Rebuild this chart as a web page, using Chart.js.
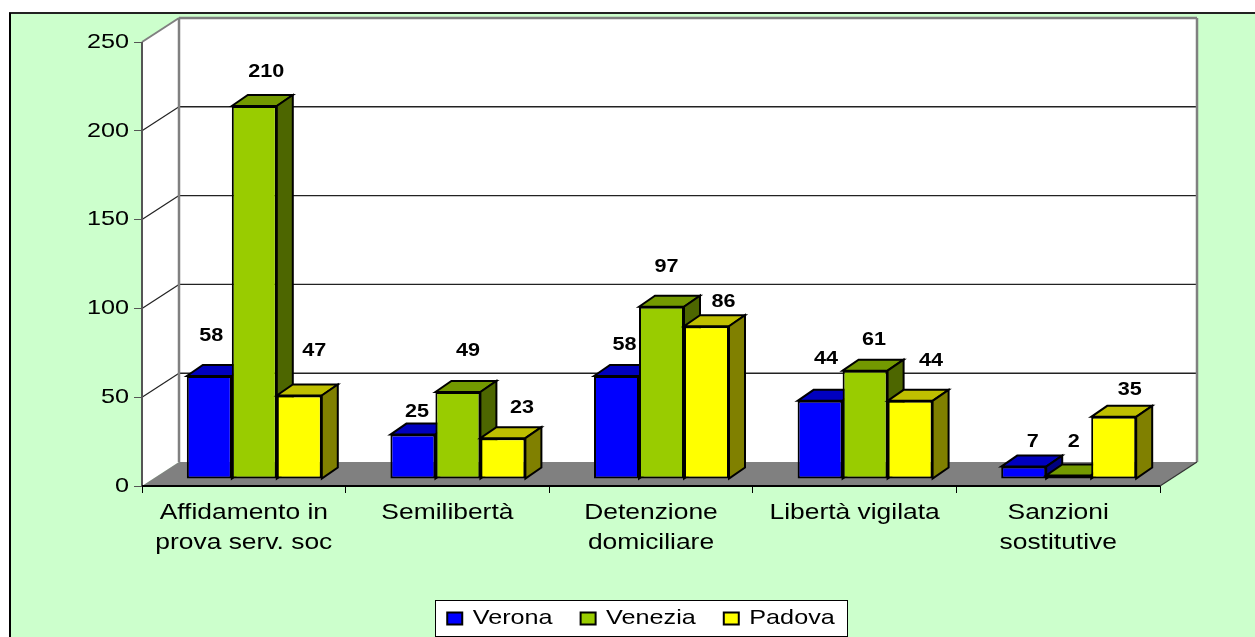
<!DOCTYPE html>
<html>
<head>
<meta charset="utf-8">
<style>
  html, body { margin: 0; padding: 0; background: #fff; }
  #wrap { width: 1255px; height: 637px; }
</style>
<script src="https://cdn.jsdelivr.net/npm/chart.js@4"></script>
</head>
<body>
<div id="wrap"><canvas id="misureChart" width="1255" height="637"></canvas></div>
<script>
var categories = [['Affidamento in', 'prova serv. soc'], 'Semilibertà', ['Detenzione', 'domiciliare'], 'Libertà vigilata', ['Sanzioni', 'sostitutive']];
var verona = [58, 25, 58, 44, 7];
var venezia = [210, 49, 97, 61, 2];
var padova = [47, 23, 86, 44, 35];
var yTicks = [0, 50, 100, 150, 200, 250];

// where each value label sits relative to the top of its bar, the original places them by hand
var veronaLabelNudge = [[2, -40], [4, -23], [8, -31], [6, -42], [9, -25]];
var veneziaLabelNudge = [[12, -34], [10, -41], [5, -40], [9, -31], [5, -33]];
var padovaLabelNudge = [[15, -44], [19, -30], [17, -24], [21, -40], [16, -27]];

var seriesStyles = [
  {front: '#0000FF', top: '#0000BF', side: '#000080', nudge: veronaLabelNudge},
  {front: '#99CC00', top: '#739900', side: '#4D6600', nudge: veneziaLabelNudge},
  {front: '#FFFF00', top: '#BFBF00', side: '#808000', nudge: padovaLabelNudge}
];

var FONT = '"Liberation Sans", Arial, sans-serif';
var TEXT_STRETCH = 1.2;   // the original bitmap is wider than tall, text comes out stretched
var WALL = {dx: 37, dy: -24};
var BAR_SHIFT = {dx: 10.5, dy: -7};
var BAR_DEPTH = {dx: 16, dy: -11};
var LEGEND_BOX = {left: 435, top: 600, right: 847, bottom: 636};

function stretchText(ctx) {
  var fillText = ctx.fillText.bind(ctx);
  var measureText = ctx.measureText.bind(ctx);
  ctx.textRendering = 'geometricPrecision';
  ctx.fillText = function(text, x, y) {
    ctx.save();
    ctx.translate(x, y);
    ctx.scale(TEXT_STRETCH, 1);
    fillText(text, 0, 0);
    ctx.restore();
  };
  ctx.measureText = function(text) {
    return {width: measureText(text).width * TEXT_STRETCH};
  };
}

function polygon(ctx, points, fill, stroke, lineWidth) {
  ctx.beginPath();
  ctx.moveTo(points[0][0], points[0][1]);
  for (var i = 1; i < points.length; i++) {
    ctx.lineTo(points[i][0], points[i][1]);
  }
  ctx.closePath();
  if (fill) {
    ctx.fillStyle = fill;
    ctx.fill();
  }
  if (stroke) {
    ctx.strokeStyle = stroke;
    ctx.lineWidth = lineWidth;
    ctx.stroke();
  }
}

function line(ctx, x1, y1, x2, y2, color, width) {
  ctx.beginPath();
  ctx.moveTo(x1, y1);
  ctx.lineTo(x2, y2);
  ctx.strokeStyle = color;
  ctx.lineWidth = width;
  ctx.stroke();
}

function drawWalls(chart) {
  var ctx = chart.ctx;
  var area = chart.chartArea;
  var yScale = chart.scales.y;
  var backLeft = area.left + WALL.dx;
  var backRight = area.right + WALL.dx;
  var backTop = area.top + WALL.dy;
  var backBottom = area.bottom + WALL.dy;

  polygon(ctx, [[area.left, area.top], [backLeft, backTop], [backLeft, backBottom], [area.left, area.bottom]], '#FFFFFF');
  polygon(ctx, [[backLeft, backTop], [backRight, backTop], [backRight, backBottom], [backLeft, backBottom]], '#FFFFFF');
  polygon(ctx, [[area.left, area.bottom], [area.right, area.bottom], [backRight, backBottom], [backLeft, backBottom]], '#808080');

  yTicks.forEach(function(value) {
    if (value === 0 || value === 250) {
      return;
    }
    var y = yScale.getPixelForValue(value);
    line(ctx, area.left, y, backLeft, y + WALL.dy, '#222222', 1.2);
    line(ctx, backLeft, y + WALL.dy, backRight, y + WALL.dy, '#222222', 1.4);
  });

  line(ctx, area.left, area.top, backLeft, backTop, '#808080', 2);
  line(ctx, backLeft, backTop, backRight, backTop, '#808080', 2.5);
  line(ctx, backLeft, backTop, backLeft, backBottom, '#808080', 2.5);
  line(ctx, backRight, backTop, backRight, backBottom, '#808080', 2.5);
  line(ctx, area.left, area.top, area.left, area.bottom, '#555555', 2);
  line(ctx, area.left, area.bottom, area.right, area.bottom, '#000000', 2);
  line(ctx, area.right, area.bottom, backRight, backBottom, '#333333', 1.2);
}

function drawBars(chart) {
  var ctx = chart.ctx;
  ctx.save();
  ctx.translate(BAR_SHIFT.dx, BAR_SHIFT.dy);

  // left to right so the next bar covers the side of the one before
  chart.data.datasets.forEach(function(dataset, d) {
    var style = seriesStyles[d];
    chart.getDatasetMeta(d).data.forEach(function(bar) {
      var left = bar.x - bar.width / 2;
      var right = bar.x + bar.width / 2;
      var dx = BAR_DEPTH.dx;
      var dy = BAR_DEPTH.dy;
      polygon(ctx, [[left, bar.y], [left + dx, bar.y + dy], [right + dx, bar.y + dy], [right, bar.y]], style.top, '#000000', 2);
      polygon(ctx, [[right, bar.y], [right + dx, bar.y + dy], [right + dx, bar.base + dy], [right, bar.base]], style.side, '#000000', 2);
      bar.draw(ctx);
    });
  });

  ctx.fillStyle = '#000000';
  ctx.font = 'bold 18px ' + FONT;
  ctx.textAlign = 'center';
  ctx.textBaseline = 'middle';
  chart.data.datasets.forEach(function(dataset, d) {
    chart.getDatasetMeta(d).data.forEach(function(bar, i) {
      var nudge = seriesStyles[d].nudge[i];
      ctx.fillText(String(dataset.data[i]), bar.x + nudge[0], bar.y + nudge[1]);
    });
  });
  ctx.restore();
}

var bars3dPlugin = {
  id: 'bars3d',
  afterLayout: function(chart) {
    // the legend sits off centre of the plot in the original
    var legend = chart.legend;
    var shift = (LEGEND_BOX.left + LEGEND_BOX.right) / 2 - (legend.left + legend.right) / 2;
    legend.left += shift;
    legend.right += shift;
    legend.top = LEGEND_BOX.top - legend.options.labels.padding + 8;
    legend.bottom = legend.top + legend.height;
  },
  beforeDraw: function(chart) {
    var ctx = chart.ctx;
    ctx.fillStyle = '#CCFFCC';
    ctx.fillRect(9, 13, chart.width - 9, chart.height - 13);
    line(ctx, 9, 13, chart.width, 13, '#222222', 2);
    line(ctx, 10, 13, 10, chart.height, '#000000', 2);

    var box = LEGEND_BOX;
    ctx.fillStyle = '#FFFFFF';
    ctx.fillRect(box.left, box.top, box.right - box.left, box.bottom - box.top);
    ctx.strokeStyle = '#000000';
    ctx.lineWidth = 1;
    ctx.strokeRect(box.left + 0.5, box.top + 0.5, box.right - box.left, box.bottom - box.top);
  },
  beforeDatasetsDraw: function(chart) {
    drawWalls(chart);
    drawBars(chart);
    return false;
  }
};

var canvas = document.getElementById('misureChart');
var context = canvas.getContext('2d');
stretchText(context);

function makeDataset(label, values, style) {
  return {
    label: label,
    data: values,
    backgroundColor: style.front,
    borderColor: '#000000',
    borderWidth: 2,
    borderSkipped: false,
    categoryPercentage: 0.663,
    barPercentage: 1
  };
}

new Chart(context, {
  type: 'bar',
  data: {
    labels: categories,
    datasets: [
      makeDataset('Verona', verona, seriesStyles[0]),
      makeDataset('Venezia', venezia, seriesStyles[1]),
      makeDataset('Padova', padova, seriesStyles[2])
    ]
  },
  plugins: [bars3dPlugin],
  options: {
    responsive: false,
    animation: false,
    layout: {padding: {top: 42, right: 95, left: 0, bottom: 0}},
    plugins: {
      tooltip: {enabled: false},
      title: {display: false},
      legend: {
        display: true,
        position: 'bottom',
        onClick: null,
        labels: {
          boxWidth: 15,
          boxHeight: 12,
          padding: 28,
          color: '#000000',
          font: {family: FONT, size: 21}
        }
      }
    },
    scales: {
      x: {
        grid: {display: true, drawOnChartArea: false, drawTicks: true, tickLength: 7, color: '#000000', offset: true},
        border: {display: false},
        ticks: {
          color: '#000000',
          maxRotation: 0,
          minRotation: 0,
          autoSkip: false,
          padding: 5,
          font: {family: FONT, size: 22, lineHeight: 1.35}
        },
        afterFit: function(scale) {
          scale.height = 637 - 486 - scale.chart.legend.height;
        }
      },
      y: {
        min: 0,
        max: 250,
        grid: {display: true, drawOnChartArea: false, drawTicks: true, tickLength: 8, color: '#555555'},
        border: {display: false},
        ticks: {
          stepSize: 50,
          color: '#000000',
          padding: 5,
          font: {family: FONT, size: 21}
        },
        afterFit: function(scale) {
          scale.width = 142;
        }
      }
    }
  }
});
</script>
</body>
</html>
